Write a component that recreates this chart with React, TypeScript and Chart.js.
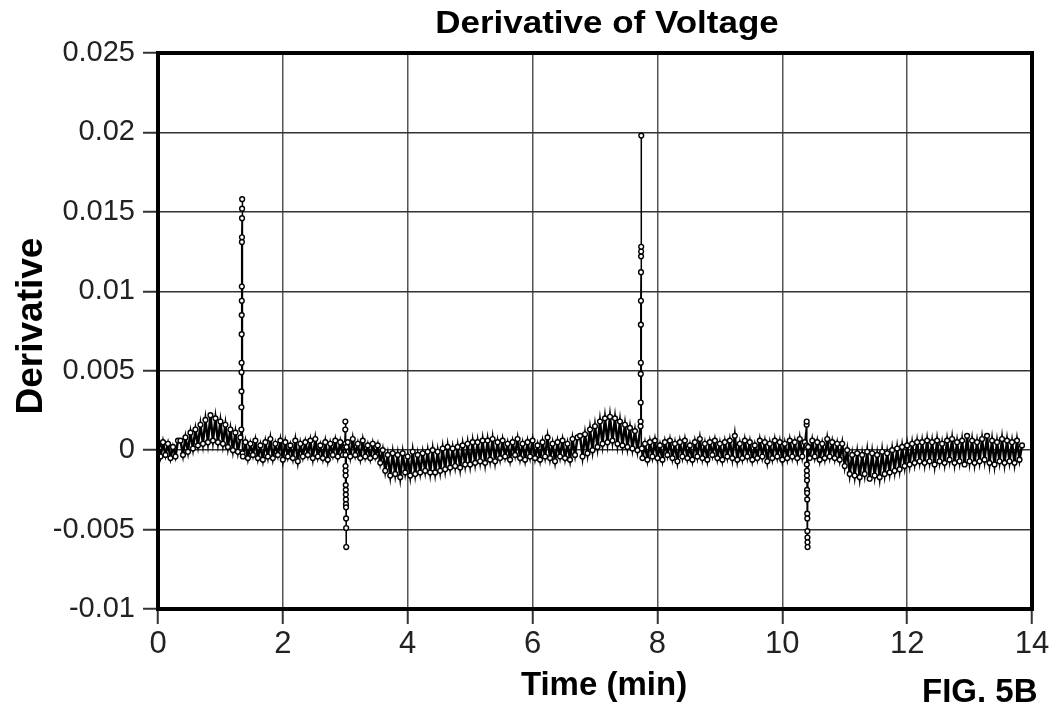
import React, { useEffect, useRef } from 'react';
import { Chart, registerables } from 'chart.js';

Chart.register(...registerables);

const FONT = '"Liberation Sans", Arial, Helvetica, sans-serif';
const TITLE = 'Derivative of Voltage';
const X_TITLE = 'Time (min)';
const Y_TITLE = 'Derivative';
const FIG_LABEL = 'FIG. 5B';

const X_MIN = 0;
const X_MAX = 14;
const X_STEP = 2;
const Y_MIN = -0.01;
const Y_MAX = 0.025;
const Y_STEP = 0.005;

// Each pair: [time in 0.01 min, derivative in units of 1e-4]
const start: [number, number][] = [[0,3],[4,-4],[8,5],[12,-3],[16,4],[20,-5],[24,2],[28,-4],[32,6]];
const hump1Rise: [number, number][] = [[36,6],[40,-3],[44,8],[48,-1],[52,11],[56,1],[60,13],[64,3],[68,16],[72,4],[76,19],[80,5],[84,22]];
const hump1Fall: [number, number][] = [[88,6],[92,20],[96,5],[100,18],[104,4],[108,16],[112,2],[116,13],[120,0],[124,11],[128,-1],[132,8]];
const spike1: [number, number][] = [[133.5,13],[133.6,27],[133.7,37],[133.8,49],[133.9,55],[134,73],[134.1,85],[134.2,94],[134.3,103],[134.4,131],[134.5,134],[134.6,146],[134.7,152],[134.8,158],[135.5,-2]];
const flat1: [number, number][] = [[136,-4],[140,5],[144,-5],[148,4],[152,-3],[156,6],[160,-5],[164,3],[168,-6],[172,5],[176,-4],[180,7],[184,-5],[188,4],[192,-3],[196,6],[200,-6],[204,5],[208,-4],[212,3],[216,-5],[220,6],[224,-7],[228,4],[232,-4],[236,5],[240,-3],[244,6],[248,-5],[252,7],[256,-4],[260,3],[264,-5],[268,5],[272,-6],[276,4],[280,-3],[284,6],[288,-4],[292,5],[296,-3]];
const spike2: [number, number][] = [[299,3],[300,13],[300.1,18],[300.2,4],[300.3,-3],[300.4,-10],[300.5,-13],[300.6,-16],[300.7,-22],[300.8,-25],[300.9,-28],[301,-31],[301.1,-34],[301.2,-36],[301.3,-43],[301.4,-49],[301.5,-61],[302,2]];
const flat2: [number, number][] = [[304,5],[308,-4],[312,7],[316,-3],[320,4],[324,-5],[328,6],[332,-4],[336,3],[340,-5],[344,4],[348,-4]];
const dip1Fall: [number, number][] = [[352,3],[356,-8],[360,0],[364,-13],[368,-3],[372,-16]];
const dip1: [number, number][] = [[376,-2],[380,-15],[384,-3],[388,-17],[392,-2],[396,-14],[400,-4],[404,-16],[408,-1],[412,-15],[416,-3],[420,-14],[424,-2],[428,-13]];
const rise1: [number, number][] = [[432,-1],[436,-14],[440,0],[444,-14],[448,-1],[452,-13],[456,1],[460,-12],[464,2],[468,-11],[472,1],[476,-10],[480,2],[484,-11],[488,3],[492,-9],[496,4],[500,-9],[504,5],[508,-8],[512,5],[516,-7],[520,6],[524,-8],[528,6],[532,-6],[536,7],[540,-7]];
const flat3: [number, number][] = [[544,5],[548,-5],[552,6],[556,-4],[560,4],[564,-6],[568,5],[572,-3],[576,7],[580,-5],[584,4],[588,-6],[592,5],[596,-4],[600,6],[604,-5],[608,3],[612,-6],[616,5],[620,-4],[624,8],[628,-5],[632,4],[636,-7],[640,5],[644,-4],[648,6],[652,-5],[656,4],[660,-6],[664,7],[668,-3],[672,8]];
const hump2Rise: [number, number][] = [[676,9],[680,-4],[684,10],[688,-2],[692,13],[696,0],[700,15],[704,2],[708,18],[712,4],[716,20],[720,5]];
const hump2Fall: [number, number][] = [[724,21],[728,6],[732,20],[736,4],[740,18],[744,3],[748,16],[752,2],[756,14],[760,1],[764,12],[768,0]];
const spike3: [number, number][] = [[773,15],[773.1,18],[773.2,30],[773.3,48],[773.4,55],[773.5,79],[773.6,94],[773.7,112],[773.8,122],[773.9,125],[774,128],[774.1,198],[775,1]];
const flat4: [number, number][] = [[776,-5],[780,4],[784,-6],[788,5],[792,-4],[796,6],[800,-5],[804,3],[808,-6],[812,5],[816,-3],[820,6],[824,-5],[828,4],[832,-7],[836,5],[840,-4],[844,6],[848,-5],[852,3],[856,-6],[860,5],[864,-4],[868,7],[872,-5],[876,4],[880,-6],[884,5],[888,-3],[892,6],[896,-5],[900,4],[904,-6],[908,5],[912,-4],[916,6],[920,-5],[924,9],[928,-6],[932,4],[936,-5],[940,6],[944,-4],[948,5],[952,-6],[956,3],[960,-5],[964,6],[968,-4],[972,5],[976,-7],[980,4],[984,-5],[988,6],[992,-4],[996,5],[1000,-6],[1004,4],[1008,-5],[1012,6],[1016,-4],[1020,5],[1024,-5],[1028,7],[1032,-4],[1036,5]];
const spike4: [number, number][] = [[1039,16],[1039.1,18],[1039.2,3],[1039.3,-9],[1039.4,-13],[1039.5,-16],[1039.6,-19],[1039.7,-25],[1039.8,-27],[1039.9,-31],[1040,-40],[1040.1,-43],[1040.2,-51],[1040.3,-55],[1040.4,-58],[1040.5,-61],[1041.5,2]];
const flat5: [number, number][] = [[1044,-5],[1048,6],[1052,-4],[1056,5],[1060,-6],[1064,4],[1068,-5],[1072,7],[1076,-4],[1080,5],[1084,-5],[1088,4],[1092,-6]];
const dip2Fall: [number, number][] = [[1096,4],[1100,-10],[1104,0],[1108,-15],[1112,-3]];
const dip2: [number, number][] = [[1116,-16],[1120,-2],[1124,-17],[1128,-3],[1132,-15],[1136,-1],[1140,-18],[1144,-2],[1148,-16],[1152,-3],[1156,-17],[1160,-1]];
const rise2: [number, number][] = [[1164,-15],[1168,-2],[1172,-14],[1176,0],[1180,-13],[1184,1],[1188,-12],[1192,2],[1196,-10],[1200,3],[1204,-9],[1208,4],[1212,-8],[1216,5],[1220,-7]];
const flat6: [number, number][] = [[1224,5],[1228,-8],[1232,6],[1236,-7],[1240,5],[1244,-9],[1248,6],[1252,-7],[1256,4],[1260,-8],[1264,6],[1268,-6],[1272,7],[1276,-8],[1280,5],[1284,-7],[1288,6],[1292,-9],[1296,9],[1300,-7],[1304,6],[1308,-8],[1312,5],[1316,-7],[1320,7],[1324,-6],[1328,9],[1332,-8],[1336,6],[1340,-9],[1344,5],[1348,-7],[1352,7],[1356,-8],[1360,6],[1364,-7],[1368,5],[1372,-8],[1376,6],[1380,-6],[1384,3]];

const SEGMENTS = [start, hump1Rise, hump1Fall, spike1, flat1, spike2, flat2, dip1Fall, dip1, rise1, flat3, hump2Rise, hump2Fall, spike3, flat4, spike4, flat5, dip2Fall, dip2, rise2, flat6];

const decorPlugin = {
  id: 'decor',
  afterDraw(chart: any) {
    const { ctx, chartArea: a } = chart;
    ctx.save();
    ctx.strokeStyle = '#000';
    ctx.lineWidth = 4;
    ctx.strokeRect(a.left, a.top, a.right - a.left, a.bottom - a.top);
    ctx.fillStyle = '#000';
    ctx.save();
    ctx.translate(607, 33);
    ctx.scale(1, 0.88);
    ctx.font = `bold 35px ${FONT}`;
    ctx.textAlign = 'center';
    ctx.textBaseline = 'alphabetic';
    ctx.fillText(TITLE, 0, 0);
    ctx.restore();
    ctx.save();
    ctx.translate(42, 326);
    ctx.rotate(-Math.PI / 2);
    ctx.font = `bold 37px ${FONT}`;
    ctx.textAlign = 'center';
    ctx.textBaseline = 'alphabetic';
    ctx.fillText(Y_TITLE, 0, 0);
    ctx.restore();
    ctx.font = `bold 33px ${FONT}`;
    ctx.textAlign = 'center';
    ctx.textBaseline = 'alphabetic';
    ctx.fillText(X_TITLE, 604, 695);
    ctx.textAlign = 'left';
    ctx.fillText(FIG_LABEL, 922, 702);
    ctx.restore();
  },
};

export default function App() {
  const ref = useRef<HTMLCanvasElement>(null);
  useEffect(() => {
    const points = SEGMENTS.flat().map(([t, v]) => ({ x: t / 100, y: v / 10000 }));
    const chart = new Chart(ref.current as HTMLCanvasElement, {
      type: 'line',
      data: {
        datasets: [
          {
            data: points,
            borderColor: '#000',
            borderWidth: 2.5,
            segment: {
              borderWidth: (c: any) => (Math.abs(c.p1.x - c.p0.x) < 2 ? 1.5 : 2.5),
            },
            pointRadius: 2.4,
            pointBorderWidth: 1.4,
            pointBackgroundColor: '#fff',
            pointBorderColor: '#000',
            tension: 0,
            fill: false,
          },
        ],
      },
      options: {
        animation: false,
        responsive: true,
        maintainAspectRatio: false,
        events: [],
        layout: { padding: { left: 0, right: 23, top: 53, bottom: 0 } },
        plugins: { legend: { display: false }, title: { display: false }, tooltip: { enabled: false } },
        scales: {
          x: {
            type: 'linear',
            min: X_MIN,
            max: X_MAX,
            afterFit: (s: any) => { s.height = 102; },
            ticks: { stepSize: X_STEP, color: '#222', padding: 2, font: { family: FONT, size: 31 } },
            grid: { color: '#555', lineWidth: 1.5, tickLength: 15, tickColor: '#333', tickWidth: 2 },
            border: { display: false },
          },
          y: {
            type: 'linear',
            min: Y_MIN,
            max: Y_MAX,
            afterFit: (s: any) => { s.width = 158; },
            ticks: {
              stepSize: Y_STEP,
              color: '#222',
              padding: 8,
              font: { family: FONT, size: 29 },
              callback: (v: any) => String(Number(Number(v).toFixed(3))),
            },
            grid: { color: '#333', lineWidth: 1.5, tickLength: 15, tickColor: '#333', tickWidth: 2 },
            border: { display: false },
          },
        },
      },
      plugins: [decorPlugin],
    });
    return () => chart.destroy();
  }, []);
  return (
    <div style={{ position: 'fixed', left: 0, top: 0, width: 1055, height: 711, background: '#fff' }}>
      <canvas ref={ref} />
    </div>
  );
}
